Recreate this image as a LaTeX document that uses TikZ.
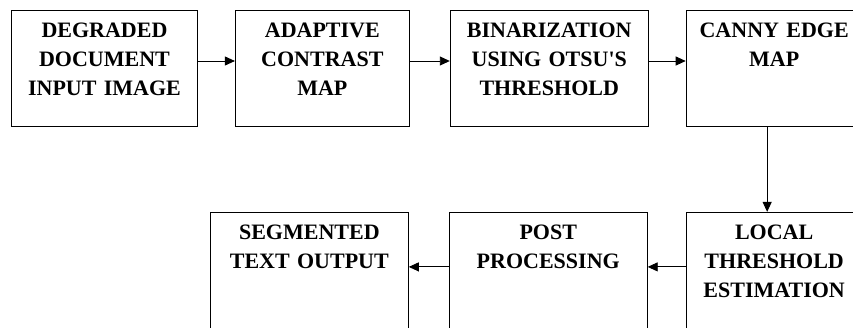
\documentclass[tikz,border=0pt]{standalone}
\usepackage{fontspec}
\setmainfont{Liberation Serif}
\usetikzlibrary{arrows.meta,positioning}
\tikzstyle{arrow} = [line width=0.9pt,->,>={Triangle[length=10pt,width=9pt]}]
\tikzstyle{stage} = [draw, line width=0.9pt, inner xsep=2pt, inner ysep=0pt, text height=27.5pt, text depth=88.5pt, align=center, font=\bfseries\fontsize{22}{29}\selectfont]

\begin{document}
\begin{tikzpicture}
    \clip (0,0) rectangle (853pt,-327pt);

    % Top row
    \node[stage, text width=182pt, anchor=north west] (input) at (11pt,-10pt) {DEGRADED\\DOCUMENT\\INPUT IMAGE};
    \node[stage, text width=170pt, right=37pt of input] (contrast) {ADAPTIVE\\CONTRAST\\MAP};
    \node[stage, text width=194pt, right=40pt of contrast] (otsu) {BINARIZATION\\USING OTSU\textquotesingle S\\THRESHOLD};
    \node[stage, text width=172pt, right=37pt of otsu] (canny) {CANNY EDGE\\MAP};

    % Bottom row
    \node[stage, text width=172pt, text depth=95pt, below=85pt of canny] (local) {LOCAL\\THRESHOLD\\ESTIMATION};
    \node[stage, text width=194pt, text depth=95pt, left=38pt of local] (post) {POST\\PROCESSING};
    \node[stage, text width=194pt, text depth=95pt, left=40pt of post] (output) {SEGMENTED\\TEXT OUTPUT};

    % Flow
    \draw[arrow] ([yshift=-51pt]input.north east) -- ([yshift=-51pt]contrast.north west);
    \draw[arrow] ([yshift=-51pt]contrast.north east) -- ([yshift=-51pt]otsu.north west);
    \draw[arrow] ([yshift=-51pt]otsu.north east) -- ([yshift=-51pt]canny.north west);
    \draw[arrow] ([xshift=-7pt]canny.south) -- ([xshift=-7pt]local.north);
    \draw[arrow] ([yshift=-55pt]local.north west) -- ([yshift=-55pt]post.north east);
    \draw[arrow] ([yshift=-55pt]post.north west) -- ([yshift=-55pt]output.north east);
\end{tikzpicture}
\end{document}
